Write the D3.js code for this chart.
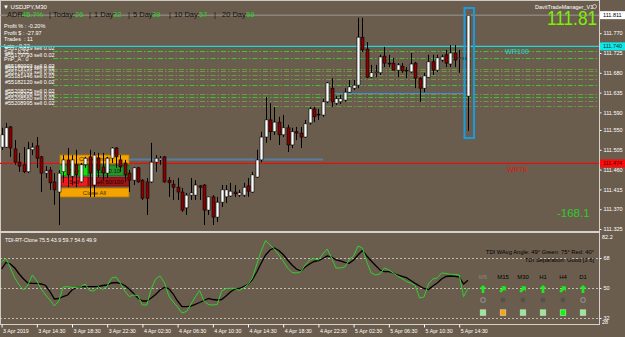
<!DOCTYPE html>
<html>
<head>
<meta charset="utf-8">
<script src="https://cdn.jsdelivr.net/npm/d3@7"></script>
<style>
  html, body { margin: 0; padding: 0; background: #6b5d4d; }
  svg { display: block; font-family: "Liberation Sans", Arial, sans-serif; }
</style>
</head>
<body>
<div id="chart"></div>
<script>
// USDJPY M30 with TDI sub window

var width = 625;
var height = 337;
var bg = "#6b5d4d";

// Bars: 3 Apr 10:30 -> 5 Apr 15:30 (M30)
var opens = [111.511,111.511,111.557,111.507,111.477,111.471,111.455,111.505,111.514,111.489,
  111.452,111.459,111.432,111.409,111.455,111.482,111.445,111.471,111.432,111.471,
  111.489,111.425,111.486,111.466,111.452,111.486,111.509,111.482,111.475,111.452,
  111.436,111.464,111.436,111.432,111.432,111.477,111.482,111.489,111.436,111.427,
  111.420,111.409,111.373,111.402,111.402,111.423,111.425,111.368,111.398,111.352,
  111.386,111.398,111.400,111.409,111.402,111.402,111.423,111.409,111.443,111.482,
  111.534,111.573,111.546,111.568,111.539,111.555,111.516,111.546,111.543,111.534,
  111.566,111.598,111.586,111.584,111.614,111.645,111.611,111.614,111.618,111.636,
  111.645,111.652,111.761,111.734,111.670,111.680,111.680,111.718,111.702,111.702,
  111.686,111.695,111.686,111.682,111.702,111.668,111.645,111.670,111.705,111.686,
  111.709,111.721,111.700,111.725,111.713,111.714,111.627];
var highs = [111.555,111.566,111.559,111.527,111.498,111.511,111.523,111.521,111.534,111.491,
  111.468,111.466,111.452,111.459,111.493,111.509,111.493,111.505,111.475,111.489,
  111.505,111.500,111.498,111.498,111.489,111.511,111.511,111.493,111.482,111.459,
  111.466,111.466,111.438,111.441,111.521,111.493,111.491,111.491,111.443,111.436,
  111.441,111.418,111.407,111.441,111.436,111.425,111.427,111.398,111.402,111.398,
  111.425,111.425,111.430,111.425,111.414,111.430,111.441,111.455,111.505,111.546,
  111.625,111.611,111.602,111.580,111.584,111.562,111.555,111.557,111.557,111.573,
  111.602,111.602,111.598,111.621,111.659,111.668,111.627,111.630,111.645,111.664,
  111.664,111.805,111.805,111.750,111.698,111.698,111.721,111.739,111.721,111.714,
  111.702,111.702,111.693,111.725,111.705,111.670,111.680,111.721,111.721,111.721,
  111.721,111.732,111.743,111.743,111.732,111.727,111.811];
var lows = [111.505,111.509,111.489,111.471,111.455,111.452,111.452,111.493,111.464,111.409,
  111.441,111.414,111.380,111.334,111.430,111.420,111.425,111.420,111.430,111.464,
  111.398,111.398,111.443,111.436,111.441,111.475,111.464,111.455,111.432,111.409,
  111.425,111.430,111.391,111.357,111.430,111.455,111.471,111.430,111.398,111.391,
  111.391,111.364,111.357,111.391,111.391,111.391,111.334,111.357,111.334,111.341,
  111.375,111.384,111.398,111.398,111.398,111.398,111.398,111.407,111.441,111.477,
  111.521,111.527,111.539,111.516,111.534,111.500,111.509,111.527,111.509,111.532,
  111.562,111.568,111.573,111.580,111.611,111.602,111.607,111.609,111.614,111.634,
  111.641,111.645,111.727,111.668,111.668,111.670,111.675,111.693,111.693,111.686,
  111.670,111.680,111.668,111.680,111.645,111.614,111.636,111.668,111.675,111.682,
  111.705,111.693,111.693,111.693,111.680,111.680,111.548];
var closes = [111.539,111.555,111.509,111.477,111.468,111.455,111.507,111.511,111.486,111.452,
  111.457,111.430,111.414,111.452,111.482,111.448,111.482,111.448,111.471,111.486,
  111.452,111.493,111.459,111.452,111.486,111.509,111.489,111.466,111.448,111.436,
  111.464,111.432,111.395,111.395,111.477,111.486,111.486,111.432,111.430,111.420,
  111.409,111.368,111.402,111.407,111.425,111.420,111.368,111.398,111.352,111.386,
  111.414,111.414,111.411,111.405,111.407,111.420,111.411,111.448,111.482,111.534,
  111.573,111.546,111.568,111.539,111.555,111.516,111.546,111.543,111.534,111.564,
  111.598,111.580,111.584,111.614,111.657,111.614,111.621,111.621,111.636,111.648,
  111.652,111.761,111.732,111.670,111.680,111.682,111.716,111.702,111.700,111.686,
  111.698,111.684,111.684,111.700,111.668,111.645,111.673,111.705,111.686,111.714,
  111.716,111.702,111.725,111.709,111.714,111.711,111.811];

// TDI lines (green = price line, black = signal line)
var tdiGreen = [65.6,67.7,62.0,56.0,51.8,48.8,51.8,57.8,54.2,49.4,
  45.8,42.8,39.2,42.2,50.6,50.8,50.3,50.3,50.8,52.4,
  48.5,48.2,50.9,49.1,51.2,56.0,56.6,53.0,48.2,44.9,
  45.8,45.5,39.8,39.8,49.4,55.4,57.2,53.3,45.2,41.6,
  38.6,35.0,35.9,40.1,44.6,48.5,42.2,40.1,39.8,40.1,
  48.2,49.7,49.8,49.8,48.5,50.0,52.1,56.0,64.4,72.2,
  78.5,75.8,73.4,69.8,66.2,62.0,59.3,59.0,59.8,63.8,
  66.8,67.7,66.8,70.4,73.4,68.0,62.0,62.0,62.6,67.1,
  69.2,75.2,74.0,65.6,59.0,57.8,58.4,62.0,60.8,59.0,
  57.2,55.7,53.9,53.0,51.5,44.0,44.6,52.4,55.4,56.0,
  59.0,58.7,58.2,58.2,57.8,44.8,49.9];
var tdiBlack = [61.4,65.3,64.4,62.0,58.4,55.4,53.0,52.8,52.8,52.4,
  51.5,47.8,43.4,43.7,44.9,45.8,48.8,50.3,50.8,50.8,
  50.8,50.8,50.9,51.5,51.8,53.0,53.3,52.8,51.5,49.4,
  46.7,44.0,42.2,42.2,44.0,46.1,48.8,50.3,49.7,46.4,
  42.2,38.8,38.8,39.2,40.2,41.3,42.5,43.7,43.1,42.8,
  43.1,45.2,47.6,49.4,49.7,50.9,52.1,55.1,59.6,65.0,
  69.8,72.8,74.0,72.5,70.1,66.8,63.8,61.4,60.2,62.6,
  64.4,65.9,66.4,67.7,69.2,68.6,66.8,66.2,65.3,64.8,
  66.8,69.8,72.5,69.2,66.2,63.5,60.8,59.8,59.8,59.0,
  57.8,57.0,56.2,54.5,52.8,51.2,49.7,49.1,51.2,53.0,
  55.4,56.9,57.2,57.0,56.6,52.4,54.6];

var timeTicks = [0, 8, 16, 24, 32, 40, 48, 56, 64, 72, 80, 88, 96, 104];
var timeLabels = ["3 Apr 2019", "3 Apr 14:30", "3 Apr 18:30", "3 Apr 22:30", "4 Apr 02:30",
  "4 Apr 06:30", "4 Apr 10:30", "4 Apr 14:30", "4 Apr 18:30", "4 Apr 22:30",
  "5 Apr 02:30", "5 Apr 06:30", "5 Apr 10:30", "5 Apr 14:30"];

var priceTicks = [111.770, 111.725, 111.680, 111.635, 111.590, 111.550, 111.505,
  111.460, 111.415, 111.370, 111.325];
var bidPrice = 111.811;
var wr100Price = 111.740;
var wr78Price = 111.474;
var boxLinePrice = 111.483;
var blueLinePrice = 111.633;

var orderPrices = [111.730, 111.713, 111.688, 111.683, 111.674, 111.665, 111.652,
  111.632, 111.626, 111.616, 111.605];
var orderTickets = ["#55176819", "#55179793", "#55180003", "#55179751", "#55179701",
  "#55181446", "#55182120", "#55208025", "#55208308", "#55208560", "#55208995"];

var adrNames = ["ADR:", "Today:", "1 Day:", "5 Day:", "10 Day:", "20 Day:"];
var adrValues = ["45.7%", "26", "32", "39", "57", "58"];

var infoLines = ["Profit % : -0.20%", "Profit $ : -27.97", "Trades  : 11",
  "Lots : 0.22", "Sell : 0.22", "PnP_A : 0"];

var tdiTicks = [68, 50, 32];
var tdiValues = "TDI-RT-Clone 75.5 43.9 59.7 54.6 49.9";
var tfNames = ["M5", "M15", "M30", "H1", "H4", "D1"];
var tfArrowAngle = [0, 45, 45, 0, 45, 0];
var tfDots = ["ring", "dot", "dot", "dot", "dot", "ring"];
var tfSquares = ["#90ee90", "#ffa500", "#90ee90", "#90ee90", "#00ff00", "#90ee90"];

// Section 1: canvas, scales
// ======================================================
var svg = d3.select("#chart").append("svg")
  .attr("width", width)
  .attr("height", height);

svg.append("rect").attr("width", width).attr("height", height).attr("fill", bg);

var x = d3.scaleLinear().domain([0, 106]).range([1.6, 468]);
var y = d3.scaleLinear().domain([111.325, 111.815]).range([229, 13.4]);
var yT = d3.scaleLinear().domain([28, 82.2]).range([324.7, 234.3]);

var white = "#ffffff";

// frame lines
svg.append("line").attr("x1", 0.5).attr("x2", 0.5).attr("y1", 0).attr("y2", 325)
  .attr("stroke", "#cfcac4").attr("stroke-width", 1);
svg.append("line").attr("x1", 0).attr("x2", 600).attr("y1", 0.5).attr("y2", 0.5)
  .attr("stroke", "#cfcac4");
svg.append("rect").attr("x", 0).attr("y", 231).attr("width", 600).attr("height", 2)
  .attr("fill", "#d6d3cf");
svg.append("line").attr("x1", 0).attr("x2", 600).attr("y1", 324.5).attr("y2", 324.5)
  .attr("stroke", "#d6d3cf");

// Section 2: main window objects
// ======================================================
var main = svg.append("g");

// bid line
main.append("line").attr("x1", 0).attr("x2", 599).attr("y1", y(bidPrice)).attr("y2", y(bidPrice))
  .attr("stroke", "#9c9893").attr("stroke-width", 1);

// order lines
var brightOrders = [0, 1, 6, 8];
orderPrices.forEach(function(p, i) {
  main.append("line")
    .attr("x1", 53).attr("x2", 599)
    .attr("y1", Math.round(y(p)) + 0.5).attr("y2", Math.round(y(p)) + 0.5)
    .attr("stroke", brightOrders.indexOf(i) >= 0 ? "#35c935" : "#6e9a45")
    .attr("stroke-width", 1)
    .attr("stroke-dasharray", "5,2,1.5,2");
  main.append("text")
    .attr("x", 5).attr("y", y(p) - 1)
    .attr("fill", white).attr("font-size", 5.5)
    .text(orderTickets[i] + " sell 0.02");
});

// info block
infoLines.forEach(function(t, i) {
  main.append("text")
    .attr("x", 4).attr("y", 28 + i * 6.6)
    .attr("fill", white).attr("font-size", 5.5)
    .style("white-space", "pre")
    .text(t);
});

// cyan and red lines
main.append("line").attr("x1", 0).attr("x2", 599).attr("y1", y(wr100Price)).attr("y2", y(wr100Price))
  .attr("stroke", "#22d6d6").attr("stroke-width", 1.3);
main.append("text").attr("x", 505).attr("y", 53.5).attr("fill", "#22d6d6")
  .attr("font-size", 7.2).text("WR100");

main.append("line").attr("x1", 129).attr("x2", 323).attr("y1", y(boxLinePrice)).attr("y2", y(boxLinePrice))
  .attr("stroke", "#5b7c9c").attr("stroke-width", 2);
main.append("line").attr("x1", 333).attr("x2", 463).attr("y1", y(blueLinePrice)).attr("y2", y(blueLinePrice))
  .attr("stroke", "#3a94d6").attr("stroke-width", 1);

main.append("line").attr("x1", 0).attr("x2", 599).attr("y1", y(wr78Price)).attr("y2", y(wr78Price))
  .attr("stroke", "#e41010").attr("stroke-width", 1.2);
main.append("text").attr("x", 507).attr("y", 171.7).attr("fill", "#e41010")
  .attr("font-size", 7.2).text("WR78");

// trade buttons (candles are drawn over them)
var buttons = main.append("g").attr("font-size", 6).attr("text-anchor", "middle");
function button(bx, by, bw, bh, fill, label, color) {
  buttons.append("rect").attr("x", bx).attr("y", by).attr("width", bw).attr("height", bh)
    .attr("fill", fill).attr("stroke", d3.color(fill).darker(0.8)).attr("stroke-width", 0.8);
  buttons.append("text").attr("x", bx + bw / 2).attr("y", by + bh / 2 + 2)
    .attr("fill", color).text(label);
}
button(60, 155, 69, 8.5, "#f5a300", "Close Profit", "#4a3000");
button(60, 165.5, 28, 10, "#10e010", "Buy", "#003300");
button(88, 165.5, 41, 10, "#27952a", "Lot: 0.10", "#062a06");
button(60, 177.5, 28, 8.5, "#f21a1a", "Sell", "#3a0000");
button(88, 177.5, 41, 8.5, "#9c1414", "Sell 50/100", "#2a0000");
button(60, 188, 69, 9, "#f5a300", "Close All", "#4a3000");

// candles
var bars = opens.map(function(o, i) {
  return { i: i, o: o, h: highs[i], l: lows[i], c: closes[i] };
});

var candles = main.selectAll("g.bar").data(bars).enter().append("g").attr("class", "bar");

candles.append("line")
  .attr("x1", function(d) { return Math.round(x(d.i)) + 0.5; })
  .attr("x2", function(d) { return Math.round(x(d.i)) + 0.5; })
  .attr("y1", function(d) { return y(d.h); })
  .attr("y2", function(d) { return y(d.l); })
  .attr("stroke", "#000")
  .attr("stroke-width", 1);

candles.append("rect")
  .attr("x", function(d) { return Math.round(x(d.i)) - 1; })
  .attr("width", 3)
  .attr("y", function(d) { return y(Math.max(d.o, d.c)); })
  .attr("height", function(d) { return Math.max(0.8, Math.abs(y(d.o) - y(d.c))); })
  .attr("fill", function(d) { return d.c >= d.o ? "#ffffff" : "#8b0000"; })
  .attr("stroke", "#000")
  .attr("stroke-width", 0.6);

// highlight box on last bar
main.append("rect").attr("x", 464.5).attr("y", 8).attr("width", 9.5).attr("height", 130)
  .attr("fill", "none").attr("stroke", "#1a9be0").attr("stroke-width", 2);

// header texts
main.append("text").attr("x", 3).attr("y", 8.5).attr("fill", white).attr("font-size", 6)
  .text("\u25BC USDJPY,M30");

var adrX = [[7, 22], [53, 75], [94, 113], [133, 152], [174, 199], [222, 246]];
var barX = [49, 89, 128, 169, 214];
var adr = main.append("g").attr("font-size", 7.5);
adrNames.forEach(function(n, i) {
  adr.append("text").attr("x", adrX[i][0]).attr("y", 17.2).attr("fill", "#111").text(n);
  adr.append("text").attr("x", adrX[i][1]).attr("y", 17.2).attr("fill", "#1fd51f").text(adrValues[i]);
});
barX.forEach(function(bx) {
  adr.append("text").attr("x", bx).attr("y", 17.2).attr("fill", "#111").text("|");
});

main.append("text").attr("x", 535).attr("y", 8.5).attr("fill", white).attr("font-size", 5.5)
  .text("DavitTradeManager_V1");
main.append("circle").attr("cx", 594.5).attr("cy", 6.5).attr("r", 2)
  .attr("fill", "none").attr("stroke", white).attr("stroke-width", 0.6);

main.append("text").attr("x", 547).attr("y", 24.5).attr("fill", "#7cf000")
  .attr("font-size", 20).attr("textLength", 50).attr("lengthAdjust", "spacingAndGlyphs")
  .text("111.81");

main.append("text").attr("x", 557).attr("y", 216.7).attr("fill", "#2ecc2e")
  .attr("font-size", 11.5).text("-168.1");

// Section 3: price axis
// ======================================================
var priceAxis = d3.axisRight(y)
  .tickValues(priceTicks)
  .tickSize(2)
  .tickPadding(2)
  .tickFormat(d3.format(".3f"));

var pa = svg.append("g")
  .attr("transform", "translate(599.5,0)")
  .call(priceAxis);
pa.select(".domain").remove();
pa.selectAll("line").attr("stroke", white);
pa.selectAll("text").attr("fill", white).attr("font-size", 5.5)
  .attr("font-family", "Liberation Sans, Arial, sans-serif");

svg.append("line").attr("x1", 599.5).attr("x2", 599.5).attr("y1", 0).attr("y2", 325)
  .attr("stroke", "#d6d3cf");

function priceTag(p, fill, color) {
  svg.append("rect").attr("x", 600).attr("y", y(p) - 4).attr("width", 25).attr("height", 8)
    .attr("fill", fill);
  svg.append("text").attr("x", 603).attr("y", y(p) + 2).attr("fill", color)
    .attr("font-size", 5.5).text(d3.format(".3f")(p));
}
priceTag(bidPrice, "#ffffff", "#000");
priceTag(wr100Price, "#10e8e8", "#003333");
priceTag(wr78Price, "#ff0a0a", "#3a0000");

// Section 4: TDI sub window
// ======================================================
var sub = svg.append("g");

tdiTicks.forEach(function(v) {
  sub.append("line").attr("x1", 0).attr("x2", 599)
    .attr("y1", Math.round(yT(v)) + 0.5).attr("y2", Math.round(yT(v)) + 0.5)
    .attr("stroke", "#d8d4cf").attr("stroke-width", 0.8).attr("stroke-dasharray", "2,2");
});

var tdiAxis = d3.axisRight(yT).tickValues(tdiTicks).tickSize(2).tickPadding(2)
  .tickFormat(d3.format("d"));
var ta = svg.append("g").attr("transform", "translate(599.5,0)").call(tdiAxis);
ta.select(".domain").remove();
ta.selectAll("line").attr("stroke", white);
ta.selectAll("text").attr("fill", white).attr("font-size", 5.5)
  .attr("font-family", "Liberation Sans, Arial, sans-serif");
svg.append("text").attr("x", 602).attr("y", 239).attr("fill", white).attr("font-size", 5.5).text("82.2");
svg.append("text").attr("x", 602).attr("y", 323.5).attr("fill", white).attr("font-size", 5.5).text("28");

var lineBlack = d3.line().x(function(d, i) { return x(i); }).y(function(d) { return yT(d); });

sub.append("path").datum(tdiBlack).attr("d", lineBlack)
  .attr("fill", "none").attr("stroke", "#000").attr("stroke-width", 1.3);
sub.append("path").datum(tdiGreen).attr("d", lineBlack)
  .attr("fill", "none").attr("stroke", "#2fd02f").attr("stroke-width", 1);

sub.append("text").attr("x", 5).attr("y", 241.5).attr("fill", white).attr("font-size", 5.3)
  .text(tdiValues);

sub.append("text").attr("x", 594).attr("y", 253.5).attr("text-anchor", "end")
  .attr("fill", "#000").attr("font-size", 5.8)
  .text("TDI WAvg Angle: 49\u00B0  Green: 75\u00B0  Red: 40\u00B0");
sub.append("text").attr("x", 594).attr("y", 262).attr("text-anchor", "end")
  .attr("fill", "#000").attr("font-size", 5.8)
  .text("TDI Separation: Good [3.6]");

var tfX = d3.scalePoint().domain(tfNames).range([483, 583]);
var arrowPath = "M0,-4 L3.6,-0.4 L1.3,-0.4 L1.3,4 L-1.3,4 L-1.3,-0.4 L-3.6,-0.4 Z";

tfNames.forEach(function(tf, i) {
  var cx = tfX(tf);
  sub.append("text").attr("x", cx).attr("y", 278.5).attr("text-anchor", "middle")
    .attr("font-size", 6).attr("fill", i === 0 ? "#8a8580" : "#000").text(tf);
  sub.append("path").attr("d", arrowPath)
    .attr("transform", "translate(" + cx + ",289) rotate(" + tfArrowAngle[i] + ")")
    .attr("fill", "#1ee81e");
  if (tfDots[i] === "ring") {
    sub.append("circle").attr("cx", cx).attr("cy", 300).attr("r", 2.3)
      .attr("fill", "none").attr("stroke", "#8c8782").attr("stroke-width", 1.2);
  } else {
    sub.append("circle").attr("cx", cx).attr("cy", 300).attr("r", 2.4).attr("fill", "#55504b");
  }
  sub.append("rect").attr("x", cx - 2.8).attr("y", 309.8).attr("width", 5.6).attr("height", 5.6)
    .attr("fill", tfSquares[i]).attr("stroke", "#d8d8d8").attr("stroke-width", 0.6);
});

// Section 5: time axis
// ======================================================
var timeAxis = d3.axisBottom(x)
  .tickValues(timeTicks)
  .tickSize(3)
  .tickPadding(2)
  .tickFormat(function(d, i) { return timeLabels[i]; });

var tx = svg.append("g").attr("transform", "translate(0,324.5)").call(timeAxis);
tx.select(".domain").remove();
tx.selectAll("line").attr("stroke", white);
tx.selectAll("text").attr("fill", white).attr("font-size", 5.3)
  .attr("text-anchor", "start").attr("dx", 1)
  .attr("font-family", "Liberation Sans, Arial, sans-serif");
</script>
</body>
</html>
